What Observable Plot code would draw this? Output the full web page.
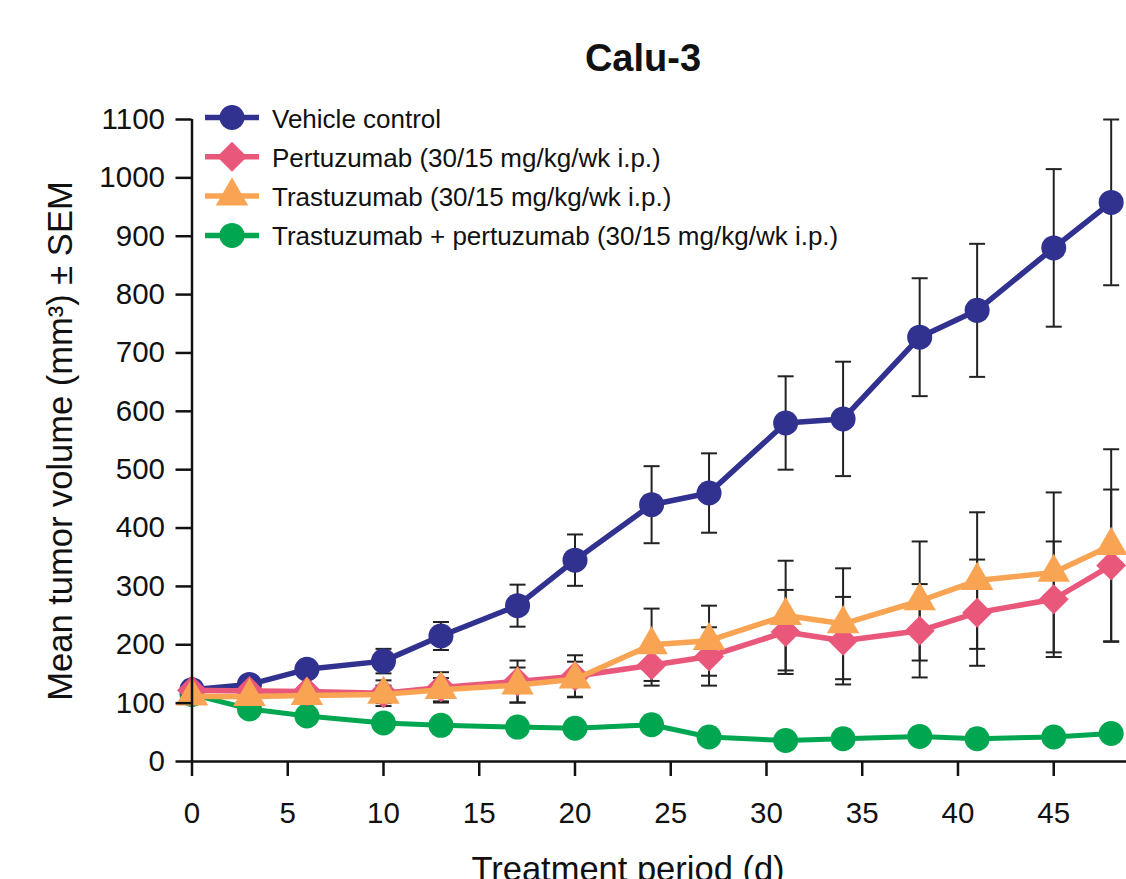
<!DOCTYPE html>
<html>
<head>
<meta charset="utf-8">
<script src="https://cdn.jsdelivr.net/npm/d3@7"></script>
<script src="https://cdn.jsdelivr.net/npm/@observablehq/plot@0.6"></script>
<style>
  html, body { margin: 0; padding: 0; background: #fff; overflow: hidden; }
  #chart svg { display: block; }
</style>
</head>
<body>
<div id="chart"></div>
<script>
// ---------- data ----------
const days = [0, 3, 6, 10, 13, 17, 20, 24, 27, 31, 34, 38, 41, 45, 48];

const vehicleMean = [123, 132, 158, 172, 215, 267, 345, 440, 460, 580, 587, 727, 773, 880, 958];
const vehicleSem  = [6, 8, 12, 21, 24, 36, 44, 66, 68, 80, 98, 101, 114, 135, 142];

const pertuzumabMean = [122, 121, 120, 117, 127, 137, 146, 165, 180, 222, 207, 224, 255, 278, 336];
const pertuzumabSem  = [6, 8, 10, 22, 26, 36, 36, 35, 50, 72, 75, 80, 91, 99, 130];

const trastuzumabMean = [112, 111, 113, 115, 123, 131, 141, 200, 207, 250, 236, 275, 310, 324, 370];
const trastuzumabSem  = [5, 8, 10, 15, 20, 30, 30, 62, 60, 94, 95, 102, 117, 137, 165];

const comboMean = [115, 90, 78, 66, 62, 59, 57, 63, 42, 36, 39, 43, 39, 42, 48];
const comboSem  = [5, 6, 6, 6, 6, 6, 6, 8, 6, 5, 5, 6, 5, 5, 6];

const seriesNames = [
  "Vehicle control",
  "Pertuzumab (30/15 mg/kg/wk i.p.)",
  "Trastuzumab (30/15 mg/kg/wk i.p.)",
  "Trastuzumab + pertuzumab (30/15 mg/kg/wk i.p.)"
];
const seriesMeans = [vehicleMean, pertuzumabMean, trastuzumabMean, comboMean];
const seriesSems  = [vehicleSem, pertuzumabSem, trastuzumabSem, comboSem];

const yTicks = [0, 100, 200, 300, 400, 500, 600, 700, 800, 900, 1000, 1100];
const xTicks = [0, 5, 10, 15, 20, 25, 30, 35, 40, 45];

const titleText = "Calu-3";
const xLabel = "Treatment period (d)";
const yLabel = "Mean tumor volume (mm³) ± SEM";

// ---------- styles ----------
const colors  = ["#31318f", "#e9587b", "#f8a453", "#00a650"];
const symbols = ["circle", "diamond2", "triangle2", "circle"];
const radii   = [12.5, 13.5, 15.5, 12.5];
const drawOrder = [3, 0, 1, 2];
const FONT = "'Liberation Sans', Arial, Helvetica, sans-serif";

// ---------- table ----------
const rows = [];
seriesNames.forEach((name, i) => {
  days.forEach((d, j) => {
    rows.push({series: name, idx: i, day: d, mean: seriesMeans[i][j], sem: seriesSems[i][j]});
  });
});

const capSymbol = {
  draw(context, size) {
    const w = Math.sqrt(size / Math.PI);
    context.moveTo(-w, 0);
    context.lineTo(w, 0);
  }
};

const W = 1126, H = 879;
const marks = [
  Plot.ruleX(rows, {x: "day", y1: d => d.mean - d.sem, y2: d => d.mean + d.sem, stroke: "#222", strokeWidth: 2}),
  Plot.dot(rows, {x: "day", y: d => d.mean + d.sem, symbol: capSymbol, r: 8, stroke: "#222", strokeWidth: 2, fill: "none"}),
  Plot.dot(rows, {x: "day", y: d => d.mean - d.sem, symbol: capSymbol, r: 8, stroke: "#222", strokeWidth: 2, fill: "none"})
];
for (const i of drawOrder) {
  const sub = rows.filter(r => r.idx === i);
  marks.push(Plot.line(sub, {x: "day", y: "mean", stroke: colors[i], strokeWidth: i === 3 ? 5 : 5.5}));
  marks.push(Plot.dot(sub, {x: "day", y: "mean", symbol: symbols[i], r: radii[i], fill: colors[i], stroke: "none"}));
}
marks.push(
  Plot.ruleX([0], {y1: 0, y2: 1100, stroke: "#111", strokeWidth: 2.5}),
  Plot.ruleY([0], {x1: 0, x2: 50, stroke: "#111", strokeWidth: 2.5}),
  Plot.axisY({ticks: yTicks, tickSize: 16, tickPadding: 11, fontSize: 29.5, tickFormat: d => String(d), strokeWidth: 2.5, label: null, stroke: "#111", fill: "#111"}),
  Plot.axisX({ticks: xTicks, tickSize: 15, tickPadding: 26, fontSize: 29.5, tickFormat: d => String(d), strokeWidth: 2.5, label: null, stroke: "#111", fill: "#111"})
);

const chart = Plot.plot({
  width: W,
  height: H,
  marginTop: 119,
  marginBottom: 118,
  marginLeft: 191.5,
  marginRight: 0,
  x: {domain: [0, 48.8]},
  y: {domain: [0, 1100]},
  style: {fontFamily: FONT, color: "#111", background: "#fff"},
  marks
});
document.getElementById("chart").appendChild(chart);

// ---------- title, axis labels, legend ----------
const svg = d3.select(chart);
svg.append("text")
  .attr("x", 643).attr("y", 71)
  .attr("text-anchor", "middle")
  .attr("font-family", FONT).attr("font-weight", "bold").attr("font-size", 38)
  .attr("fill", "#111")
  .text(titleText);

svg.append("text")
  .attr("x", 628).attr("y", 881)
  .attr("text-anchor", "middle")
  .attr("font-family", FONT).attr("font-size", 34.5)
  .attr("fill", "#111")
  .text(xLabel);

svg.append("text")
  .attr("transform", "translate(72,441) rotate(-90)")
  .attr("text-anchor", "middle")
  .attr("font-family", FONT).attr("font-size", 34.5)
  .attr("fill", "#111")
  .text(yLabel);

const d3Sym = {circle: d3.symbolCircle, diamond2: d3.symbolDiamond2, triangle2: d3.symbolTriangle2};
const lg = svg.append("g");
seriesNames.forEach((name, i) => {
  const cy = 118.5 + i * 39.3;
  const g = lg.append("g").attr("transform", `translate(0,${cy})`);
  g.append("line").attr("x1", 205).attr("x2", 259).attr("y1", -1).attr("y2", -1)
    .attr("stroke", colors[i]).attr("stroke-width", 5.5);
  g.append("path")
    .attr("transform", "translate(232,-1)")
    .attr("d", d3.symbol(d3Sym[symbols[i]], Math.PI * radii[i] * radii[i])())
    .attr("fill", colors[i]);
  g.append("text").attr("x", 272).attr("y", 9)
    .attr("text-anchor", "start")
    .attr("font-family", FONT).attr("font-size", 26).attr("fill", "#111")
    .text(name);
});
</script>
</body>
</html>
